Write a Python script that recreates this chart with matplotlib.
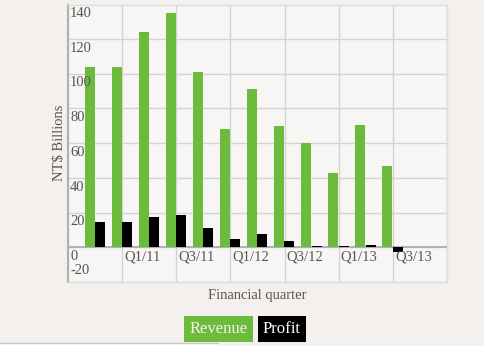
import matplotlib
matplotlib.use("Agg")
import matplotlib.pyplot as plt
from matplotlib.transforms import blended_transform_factory, offset_copy
import numpy as np

revenue = [104, 104, 124, 135, 101, 68, 91, 70, 60, 43, 70.5, 47]
profit = [14.6, 14.8, 17.5, 18.8, 11.1, 4.6, 7.5, 3.8, 1.0, 0.6, 1.2, -2.7]
x_tick_pos = [2, 4, 6, 8, 10, 12]
x_tick_labels = ["Q1/11", "Q3/11", "Q1/12", "Q3/12", "Q1/13", "Q3/13"]
y_ticks = [-20, 0, 20, 40, 60, 80, 100, 120, 140]

FONT = ["Liberation Serif", "DejaVu Serif"]
GREEN = "#6cbb3c"
TXT = "#555555"

fig = plt.figure(figsize=(4.84, 3.46), dpi=100, facecolor="#f3f0ed")
ax = fig.add_axes([68/484, 1-282/346, (447-68)/484, (282-5)/346])
ax.set_facecolor("#f7f6f4")

n = len(revenue)
x = np.arange(n) + 1
w = 0.37
ax.bar(x - 0.2, revenue, width=w, color=GREEN, zorder=3)
ax.bar(x + 0.18, profit, width=w, color="black", zorder=3)

ax.set_xlim(0, 14)
ax.set_ylim(-20, 139.5)
for yv in y_ticks:
    ax.axhline(yv, color="#d3d3d3", lw=1, zorder=1)
for xv in range(0, 15, 2):
    ax.axvline(xv, color="#d3d3d3", lw=1, zorder=1)
ax.axhline(0, color="#aaaaaa", lw=1.2, zorder=2)

ax.set_xticks([])
ax.set_yticks([])
for s in ["top", "right", "bottom"]:
    ax.spines[s].set_color("#dddddd")
    ax.spines[s].set_linewidth(1)
ax.spines["left"].set_color("#b0b0b0")
ax.spines["left"].set_linewidth(1.5)

tr = blended_transform_factory(ax.transAxes, ax.transData)
tr = offset_copy(tr, fig=fig, x=1.5, y=-2, units="points")
for yv in y_ticks:
    if yv == -20:
        ax.text(0, -20 + 12, "-20", transform=tr, ha="left", va="top",
                fontsize=10.5, color=TXT, family=FONT)
    else:
        ax.text(0, yv, str(yv), transform=tr, ha="left", va="top",
                fontsize=10.5, color=TXT, family=FONT)
trx = offset_copy(ax.transData, fig=fig, x=1.5, y=-2, units="points")
for xv, lab in zip(x_tick_pos, x_tick_labels):
    ax.text(xv, 0, lab, transform=trx, ha="left", va="top",
            fontsize=10.5, color=TXT, family=FONT)

fig.text(59/484, 1-143/346, "NT$ Billions", rotation=90, ha="center", va="center",
         fontsize=10.5, color=TXT, family=FONT)
fig.text(257/484, 1-295/346, "Financial quarter", ha="center", va="center",
         fontsize=10.5, color=TXT, family=FONT)

# legend boxes
fig.text(218.5/484, 1-329/346, "Revenue", ha="center", va="center", fontsize=12,
         color="#f4f4e8", family=FONT,
         bbox=dict(boxstyle="square,pad=0.3", fc=GREEN, ec="none"))
fig.text(282/484, 1-329/346, "Profit", ha="center", va="center", fontsize=12,
         color="white", family=FONT,
         bbox=dict(boxstyle="square,pad=0.3", fc="black", ec="none"))

fig.add_artist(plt.Line2D([0, 218/484], [1-343/346, 1-343/346], color="#c8c8c8", lw=1))
fig.patches.append(plt.Rectangle((0, 0), 218/484, 3/346, transform=fig.transFigure,
                                 fc="white", ec="none"))

fig.savefig("out.png", dpi=100, facecolor=fig.get_facecolor())
